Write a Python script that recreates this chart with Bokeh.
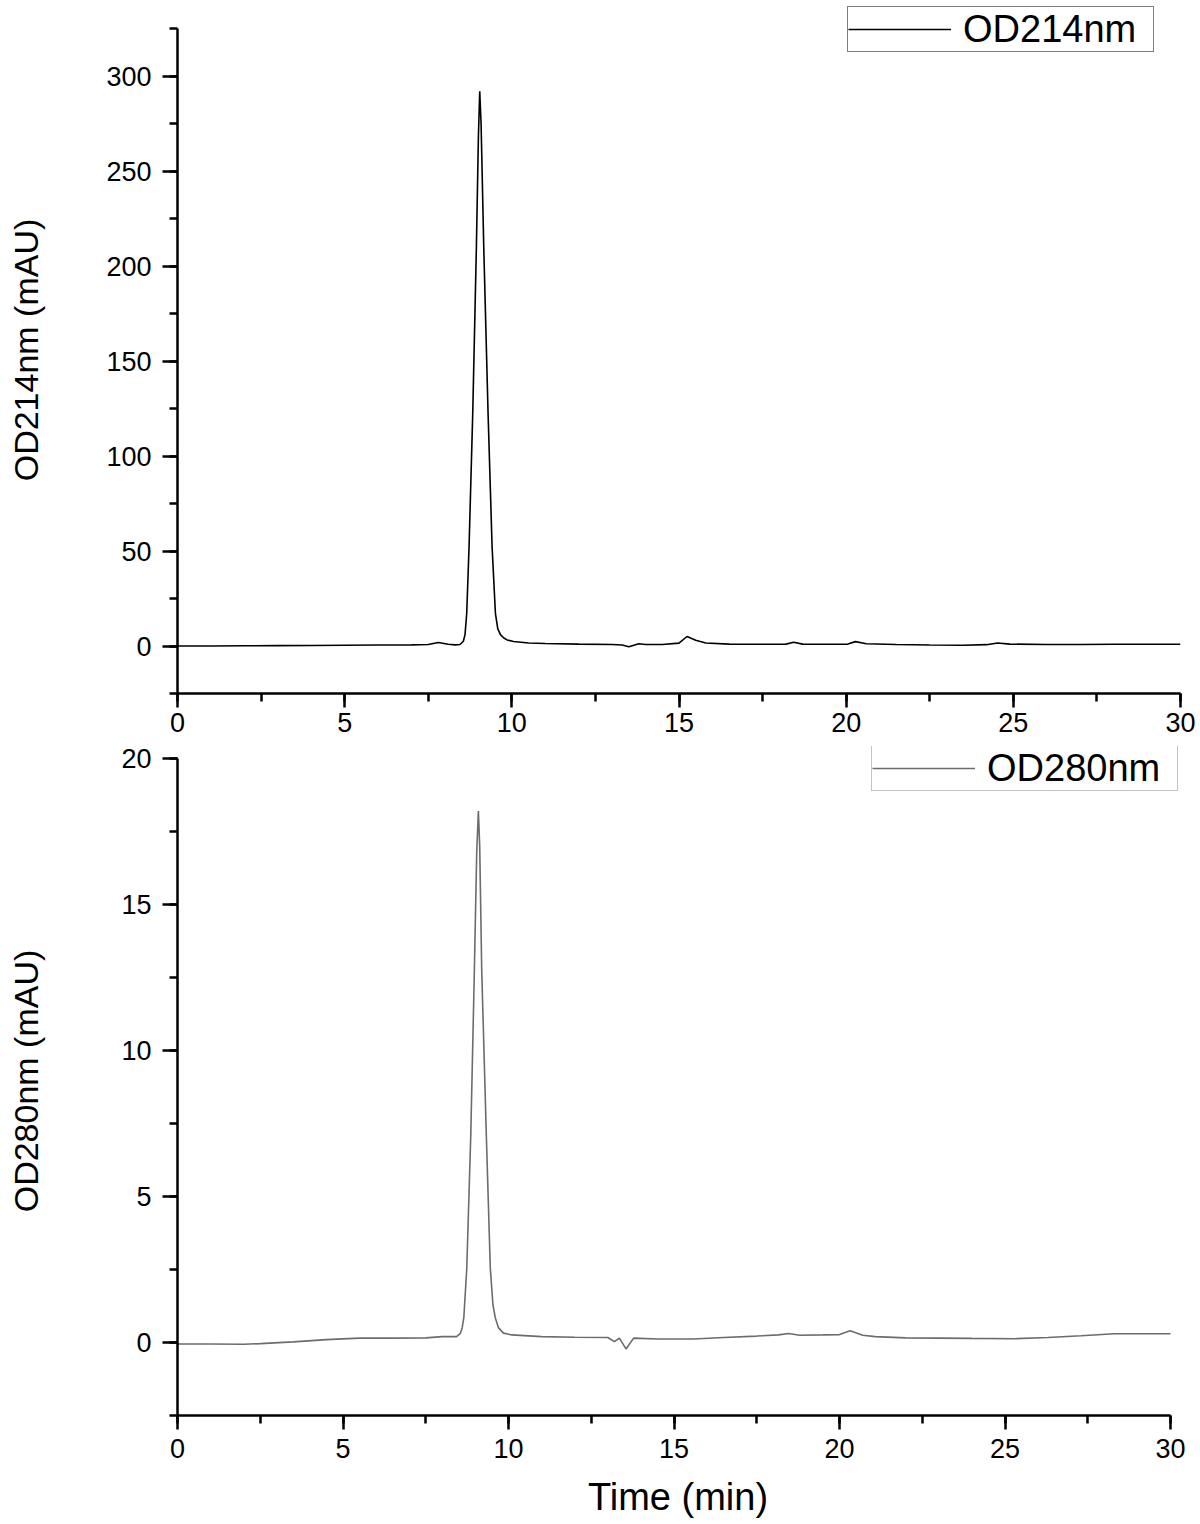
from bokeh.plotting import figure
from bokeh.models import Range1d, SingleIntervalTicker, Legend, LegendItem
from bokeh.layouts import column
from bokeh.embed import file_html
from bokeh.resources import INLINE

# ---------------- data ----------------
top_time = [0, 1, 2, 3, 4, 5, 6, 7, 7.5, 7.8, 8.1, 8.3, 8.45, 8.55, 8.6, 8.65,
            8.72, 8.83, 8.94, 9.0, 9.04, 9.08, 9.16, 9.29, 9.41, 9.51, 9.58,
            9.66, 9.76, 9.86, 10.05, 10.5, 11, 12, 13, 13.3, 13.5, 13.65, 13.8,
            14.0, 14.5, 15.0, 15.24, 15.5, 15.8, 16.5, 17.5, 18.2, 18.43, 18.7,
            19.5, 20.05, 20.28, 20.6, 21.5, 22.5, 23.5, 24.2, 24.53, 24.9, 26,
            27, 28, 29, 30]
top_od214 = [0.0, 0.0, 0.1, 0.2, 0.3, 0.4, 0.5, 0.6, 0.8, 1.8, 0.9, 0.6, 0.8,
             2.5, 6.0, 17.0, 52.0, 122.0, 210.0, 268.0, 292.0, 275.0, 210.0,
             122.0, 52.0, 17.0, 9.0, 6.0, 4.2, 3.2, 2.4, 1.6, 1.3, 1.0, 0.8,
             0.5, -0.4, 0.4, 1.2, 0.8, 0.8, 1.5, 5.0, 3.0, 1.6, 1.0, 0.9, 1.0,
             2.0, 1.0, 0.9, 1.0, 2.3, 1.2, 0.8, 0.5, 0.4, 0.7, 1.6, 1.0, 0.8,
             0.8, 0.9, 0.9, 0.9]

bot_time = [0, 1, 2, 2.5, 3.5, 4.5, 5.5, 6.5, 7.5, 8.0, 8.43, 8.54, 8.6, 8.65,
            8.74, 8.86, 8.97, 9.04, 9.09, 9.13, 9.19, 9.33, 9.45, 9.53, 9.6,
            9.7, 9.85, 10.1, 11, 12, 13.0, 13.2, 13.35, 13.55, 13.78, 14.5,
            15.6, 16.5, 17.5, 18.16, 18.46, 18.8, 19.5, 20.0, 20.32, 20.7,
            21.08, 22, 23, 24, 25.3, 26.3, 27.3, 28.3, 29, 30]
bot_od280 = [-0.05, -0.05, -0.06, -0.04, 0.02, 0.10, 0.15, 0.15, 0.16, 0.20,
             0.20, 0.30, 0.50, 0.85, 2.55, 7.1, 12.8, 16.8, 18.2, 17.0, 12.8,
             7.1, 2.55, 1.3, 0.85, 0.5, 0.32, 0.26, 0.20, 0.18, 0.17, 0.03,
             0.15, -0.22, 0.15, 0.12, 0.12, 0.17, 0.22, 0.26, 0.31, 0.25, 0.26,
             0.27, 0.40, 0.25, 0.20, 0.16, 0.15, 0.14, 0.13, 0.17, 0.23, 0.30,
             0.30, 0.30]

x_label = "Time (min)"
top_label = "OD214nm (mAU)"
bot_label = "OD280nm (mAU)"
top_name = "OD214nm"
bot_name = "OD280nm"

x_axis_min, x_axis_max = 0, 30
top_axis_min, top_axis_max = -25, 325
bot_axis_min, bot_axis_max = -2.5, 20

FONT = "Liberation Sans"


def style_axes(p, ylab_standoff, xlab_standoff):
    for ax in (p.xaxis[0], p.yaxis[0]):
        ax.axis_line_width = 2.5
        ax.axis_line_color = "black"
        ax.major_tick_line_width = 2.5
        ax.minor_tick_line_width = 2.5
        ax.major_tick_line_color = "black"
        ax.minor_tick_line_color = "black"
        ax.major_tick_in = 0
        ax.minor_tick_in = 0
        ax.major_tick_out = 15
        ax.minor_tick_out = 8
        ax.major_label_text_font = FONT
        ax.major_label_text_font_size = "27px"
        ax.major_label_text_color = "black"
        ax.axis_label_text_font = FONT
        ax.axis_label_text_font_style = "normal"
        ax.axis_label_text_color = "black"
    p.xaxis[0].major_tick_out = 14
    p.xaxis[0].major_label_standoff = xlab_standoff
    p.xaxis[0].bounds = (x_axis_min, x_axis_max)
    p.yaxis[0].major_label_standoff = 11
    p.yaxis[0].axis_label_text_font_size = "34px"
    p.yaxis[0].axis_label_standoff = ylab_standoff
    p.xgrid.visible = False
    p.ygrid.visible = False
    p.outline_line_color = None


def make_legend(name, renderer, loc, border):
    return Legend(items=[LegendItem(label=name, renderers=[renderer])],
                  location=loc, orientation="vertical",
                  border_line_color=border, border_line_width=1.5,
                  background_fill_color="white", background_fill_alpha=1.0,
                  padding=0, spacing=0, margin=0, glyph_width=103,
                  glyph_height=44, label_standoff=12, label_width=190,
                  label_height=44, label_text_font=FONT,
                  label_text_font_size="38px", label_text_color="black")


# ---------------- top panel ----------------
# frame extended above the axis end so the legend (which overhangs the
# axis top in the original) is not clipped; axis drawn only to 325.
top_px_per_unit = 1.9
top_frame_h = 687
p1 = figure(frame_width=1003, frame_height=top_frame_h, min_border_left=175,
            min_border_right=18, min_border_top=6, min_border_bottom=49,
            x_range=Range1d(x_axis_min, x_axis_max),
            y_range=Range1d(top_axis_min,
                            top_axis_min + top_frame_h / top_px_per_unit),
            toolbar_location=None, output_backend="svg")
r1 = p1.line(top_time, top_od214, line_color="black", line_width=1.6)
p1.xaxis.ticker = SingleIntervalTicker(interval=5, num_minor_ticks=2)
p1.yaxis.ticker = SingleIntervalTicker(interval=50, num_minor_ticks=2)
p1.yaxis.bounds = (top_axis_min, top_axis_max)
p1.yaxis.axis_label = top_label
style_axes(p1, 58, 5)
p1.add_layout(make_legend(top_name, r1, (670, 641), "black"))

# ---------------- bottom panel ----------------
# frame extended a little to the right so the legend box is not clipped;
# the x axis itself stops at 30.
bot_px_per_unit = 29.2
bot_frame_h = 669
bot_px_per_min = 993 / 30
bot_frame_w = 1001
p2 = figure(frame_width=bot_frame_w, frame_height=bot_frame_h,
            min_border_left=177, min_border_right=18, min_border_top=4,
            min_border_bottom=0,
            x_range=Range1d(x_axis_min, x_axis_min + bot_frame_w / bot_px_per_min),
            y_range=Range1d(bot_axis_min,
                            bot_axis_min + bot_frame_h / bot_px_per_unit),
            toolbar_location=None, output_backend="svg")
r2 = p2.line(bot_time, bot_od280, line_color="#6c6c6c", line_width=1.6)
p2.xaxis.ticker = SingleIntervalTicker(interval=5, num_minor_ticks=2)
p2.yaxis.ticker = SingleIntervalTicker(interval=5, num_minor_ticks=2)
p2.yaxis.bounds = (bot_axis_min, bot_axis_max)
p2.yaxis.axis_label = bot_label
p2.xaxis.axis_label = x_label
style_axes(p2, 73, 9)
p2.xaxis[0].axis_label_text_font_size = "38px"
p2.xaxis[0].axis_label_standoff = 15
p2.add_layout(make_legend(bot_name, r2, (694, 624), "#888888"))

layout = column(p1, p2, spacing=0)
open("out.html", "w").write(file_html(layout, INLINE))
